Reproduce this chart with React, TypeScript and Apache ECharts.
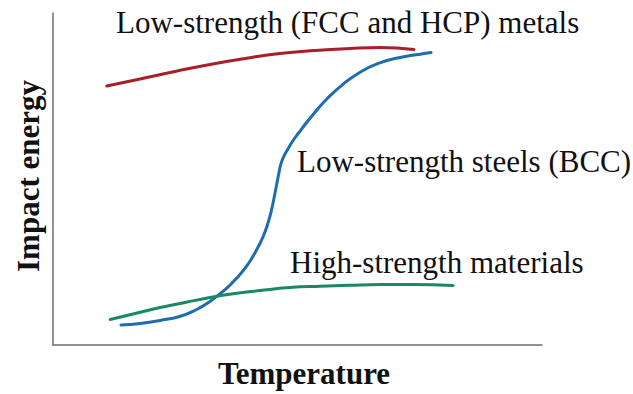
import React, { useEffect, useRef } from "react";
import * as echarts from "echarts";

// Curves (x: relative temperature 0-100, y: relative impact energy 0-100)
const fccHcpMetals: [number, number][] = [
  [11.0, 78.0], [17.8, 80.1], [24.9, 82.4], [32.1, 84.5], [39.3, 86.3],
  [46.4, 87.8], [53.6, 88.7], [60.7, 89.3], [66.9, 89.6], [73.8, 89.0],
];

const bccSteels: [number, number][] = [
  [13.9, 6.0], [17.8, 6.5], [21.9, 7.4], [25.9, 8.6], [29.0, 10.4],
  [32.1, 13.1], [35.2, 16.7], [37.8, 20.5], [39.9, 24.4], [41.5, 28.3],
  [42.9, 32.4], [44.0, 36.9], [44.8, 41.4], [45.4, 45.8], [45.8, 48.8],
  [46.2, 51.8], [46.6, 54.5], [47.2, 56.8], [48.1, 59.2], [49.1, 61.6],
  [50.3, 64.0], [51.7, 66.7], [53.8, 70.5], [56.2, 74.4], [59.1, 78.3],
  [62.4, 81.8], [66.5, 84.8], [71.0, 86.6], [75.1, 87.6], [77.3, 88.1],
];

const highStrength: [number, number][] = [
  [11.7, 7.7], [16.8, 9.5], [21.9, 11.3], [27.0, 12.8], [32.1, 14.3],
  [37.2, 15.5], [42.3, 16.4], [48.5, 17.3], [54.6, 17.7], [60.7, 18.0],
  [66.9, 18.2], [73.6, 18.2], [81.8, 17.9],
];

const seriesNames = [
  "Low-strength (FCC and HCP) metals",
  "Low-strength steels (BCC)",
  "High-strength materials",
];
const xTitle = "Temperature";
const yTitle = "Impact energy";

const SERIF = '"Liberation Serif", "Times New Roman", serif';

export default function App() {
  const ref = useRef<HTMLDivElement>(null);
  useEffect(() => {
    if (!ref.current) return;
    const chart = echarts.init(ref.current, undefined, { renderer: "svg" });
    const axisLine = { show: true, lineStyle: { color: "#6e6e6e", width: 1.5 } };
    const line = (name: string, data: [number, number][], color: string) => ({
      type: "line",
      name,
      data,
      smooth: 0.5,
      showSymbol: false,
      symbol: "none",
      lineStyle: { color, width: 3, cap: "round" },
      z: 3,
    });
    chart.setOption({
      animation: false,
      backgroundColor: "#ffffff",
      grid: { left: 53, right: 91, top: 13, bottom: 45, containLabel: false },
      xAxis: {
        type: "value",
        min: 0,
        max: 100,
        name: xTitle,
        nameLocation: "middle",
        nameGap: 13,
        nameTextStyle: { fontFamily: SERIF, fontWeight: "bold", fontSize: 31, color: "#111", padding: [0, 0, 0, 13] },
        axisLine,
        axisTick: { show: false },
        axisLabel: { show: false },
        splitLine: { show: false },
      },
      yAxis: {
        type: "value",
        min: 0,
        max: 100,
        name: yTitle,
        nameLocation: "middle",
        nameRotate: 90,
        nameGap: 9,
        nameTextStyle: { fontFamily: SERIF, fontWeight: "bold", fontSize: 31, color: "#111", padding: [0, 0, 0, 6] },
        axisLine,
        axisTick: { show: false },
        axisLabel: { show: false },
        splitLine: { show: false },
      },
      series: [
        line(seriesNames[0], fccHcpMetals, "#a81f2c"),
        line(seriesNames[1], bccSteels, "#1f6cb0"),
        line(seriesNames[2], highStrength, "#188a62"),
      ],
      graphic: [
        { type: "text", x: 116, y: 22, style: { text: seriesNames[0], font: `31px ${SERIF}`, fill: "#111", verticalAlign: "middle", align: "left" } },
        { type: "text", x: 297, y: 161, style: { text: seriesNames[1], font: `31px ${SERIF}`, fill: "#111", verticalAlign: "middle", align: "left" } },
        { type: "text", x: 290, y: 262, style: { text: seriesNames[2], font: `31px ${SERIF}`, fill: "#111", verticalAlign: "middle", align: "left" } },
      ],
    });
    return () => chart.dispose();
  }, []);
  return (
    <div
      ref={ref}
      style={{ position: "absolute", left: 0, top: 0, width: 633, height: 394, background: "#fff" }}
    />
  );
}
